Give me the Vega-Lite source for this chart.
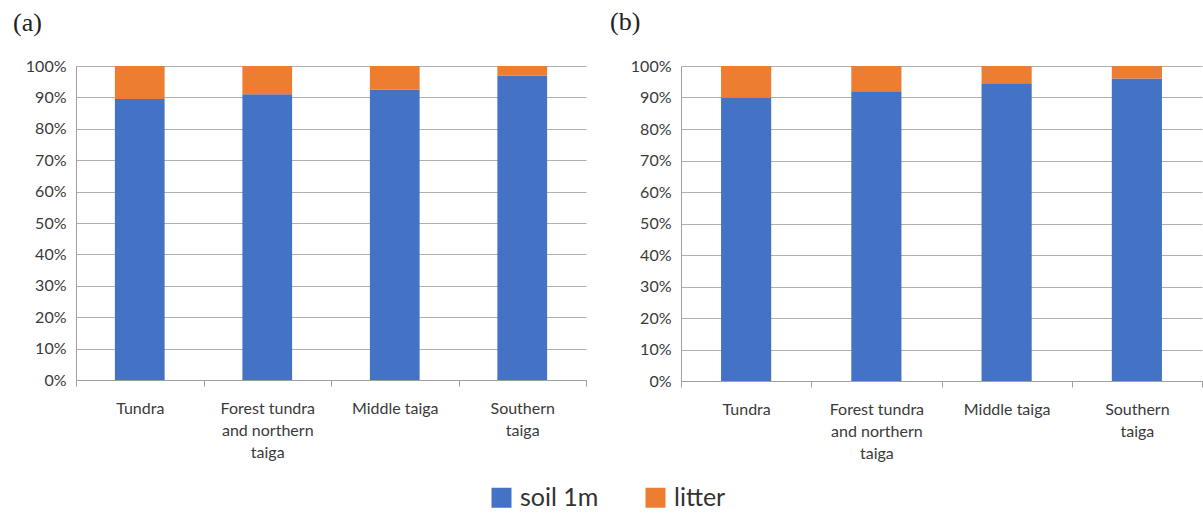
{
  "$schema": "https://vega.github.io/schema/vega-lite/v6.json",
  "padding": {"left": 13, "top": 9, "right": 0, "bottom": 0},
  "background": "white",
  "config": {
    "view": {"stroke": null},
    "font": "Lato",
    "axis": {"labelFont": "Lato", "labelFontSize": 16, "labelColor": "#3a3a3a", "gridColor": "#b0b0b0", "domainColor": "#a0a0a0", "tickColor": "#a0a0a0", "title": null},
    "legend": {"layout": {"bottom": {"anchor": "middle"}}},
    "title": {"font": "Liberation Serif", "fontSize": 26, "fontWeight": "normal", "color": "#222222", "anchor": "start", "frame": "group"}
  },
  "datasets": {
    "a": [
      {"zone": "Tundra", "component": "soil 1m", "value": 0.895},
      {"zone": "Tundra", "component": "litter", "value": 0.105},
      {"zone": "Forest tundra and northern taiga", "component": "soil 1m", "value": 0.91},
      {"zone": "Forest tundra and northern taiga", "component": "litter", "value": 0.09},
      {"zone": "Middle taiga", "component": "soil 1m", "value": 0.925},
      {"zone": "Middle taiga", "component": "litter", "value": 0.075},
      {"zone": "Southern taiga", "component": "soil 1m", "value": 0.97},
      {"zone": "Southern taiga", "component": "litter", "value": 0.03}
    ],
    "b": [
      {"zone": "Tundra", "component": "soil 1m", "value": 0.90},
      {"zone": "Tundra", "component": "litter", "value": 0.10},
      {"zone": "Forest tundra and northern taiga", "component": "soil 1m", "value": 0.92},
      {"zone": "Forest tundra and northern taiga", "component": "litter", "value": 0.08},
      {"zone": "Middle taiga", "component": "soil 1m", "value": 0.945},
      {"zone": "Middle taiga", "component": "litter", "value": 0.055},
      {"zone": "Southern taiga", "component": "soil 1m", "value": 0.96},
      {"zone": "Southern taiga", "component": "litter", "value": 0.04}
    ]
  },
  "spacing": 23,
  "hconcat": [
    {
      "data": {"name": "a"},
      "title": {"text": "(a)", "dx": -63, "offset": 22},
      "width": 510,
      "height": 314,
      "mark": {"type": "bar", "width": {"band": 0.39}},
      "encoding": {
        "x": {"field": "zone", "type": "nominal", "sort": null,
              "scale": {"paddingInner": 0, "paddingOuter": 0},
              "axis": {"labelAngle": 0, "tickBand": "extent", "tickSize": 6, "labelPadding": 14, "grid": false,
                       "labelExpr": "datum.value == 'Forest tundra and northern taiga' ? ['Forest tundra','and northern','taiga'] : datum.value == 'Southern taiga' ? ['Southern','taiga'] : datum.value", "labelLineHeight": 22, "labelBaseline": "top"}},
        "y": {"field": "value", "type": "quantitative", "stack": true,
              "scale": {"domain": [0, 1], "nice": false},
              "axis": {"format": ".0%", "values": [0,0.1,0.2,0.3,0.4,0.5,0.6,0.7,0.8,0.9,1], "ticks": false, "labelPadding": 10, "grid": true}},
        "color": {"field": "component", "type": "nominal", "sort": ["soil 1m", "litter"],
                  "scale": {"domain": ["soil 1m", "litter"], "range": ["#4472c4", "#ed7d31"]},
                  "legend": {"orient": "bottom", "direction": "horizontal", "title": null, "symbolType": "square", "symbolSize": 400, "symbolStrokeWidth": 0, "labelFontSize": 25, "labelColor": "#333333", "columnPadding": 44, "labelOffset": 6, "symbolOpacity": 1, "offset": 24}}
      }
    },
    {
      "data": {"name": "b"},
      "title": {"text": "(b)", "dx": -71, "offset": 23},
      "width": 521,
      "height": 315,
      "mark": {"type": "bar", "width": {"band": 0.385}},
      "encoding": {
        "x": {"field": "zone", "type": "nominal", "sort": null,
              "scale": {"paddingInner": 0, "paddingOuter": 0},
              "axis": {"labelAngle": 0, "tickBand": "extent", "tickSize": 6, "labelPadding": 14, "grid": false,
                       "labelExpr": "datum.value == 'Forest tundra and northern taiga' ? ['Forest tundra','and northern','taiga'] : datum.value == 'Southern taiga' ? ['Southern','taiga'] : datum.value", "labelLineHeight": 22, "labelBaseline": "top"}},
        "y": {"field": "value", "type": "quantitative", "stack": true,
              "scale": {"domain": [0, 1], "nice": false},
              "axis": {"format": ".0%", "values": [0,0.1,0.2,0.3,0.4,0.5,0.6,0.7,0.8,0.9,1], "ticks": false, "labelPadding": 10, "grid": true}},
        "color": {"field": "component", "type": "nominal", "sort": ["soil 1m", "litter"],
                  "scale": {"domain": ["soil 1m", "litter"], "range": ["#4472c4", "#ed7d31"]}}
      }
    }
  ]
}
